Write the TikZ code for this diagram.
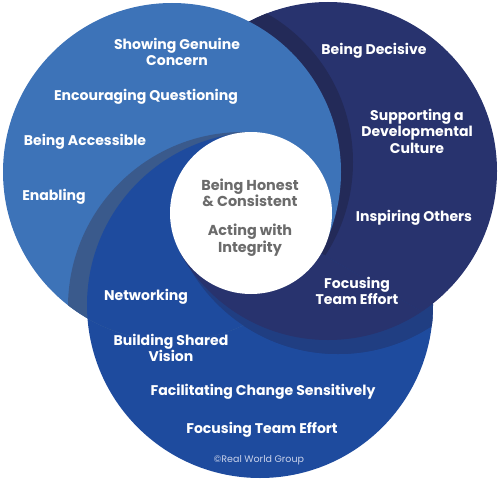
\documentclass[tikz,border=0pt]{standalone}
\usepackage{fontspec}
\newfontfamily\labelfont{Poppins}
\usetikzlibrary{calc}
\definecolor{lightring}{HTML}{3D73B8}
\definecolor{navyring}{HTML}{28336E}
\definecolor{blueRing}{HTML}{1E4B9E}
\definecolor{shadeAB}{HTML}{232A58}
\definecolor{shadeCA}{HTML}{3A5A8C}
\definecolor{shadeBC}{HTML}{203E82}
\definecolor{coregrey}{HTML}{6B6B6B}
\definecolor{copygrey}{HTML}{C9D2EA}
\tikzset{
    % 圆内白色标签
    ringlabel/.style={
        text=white,
        font=\labelfont\bfseries\fontsize{8}{9.4}\selectfont,
        align=center,
        inner sep=0pt
    },
    % 中心灰色标签
    corelabel/.style={
        text=coregrey,
        font=\labelfont\bfseries\fontsize{8.2}{9.4}\selectfont,
        align=center,
        inner sep=0pt
    }
}
\begin{document}
\begin{tikzpicture}[x=0.02cm,y=-0.02cm]
   \useasboundingbox (0,0) rectangle (500,483);
   \path
    (172,172) coordinate (ca)
    (328,171) coordinate (cb)
    (260,305) coordinate (cc)
    (251,213) coordinate (cw);
   \def\ra{169} \def\rb{169} \def\rc{173} \def\rw{81}

    % 底层：浅蓝 > 深蓝 > 中蓝
    \fill[blueRing] (cc) circle[radius=\rc];
    \begin{scope}
      \clip (cc) circle[radius=\rc];
      \fill[shadeBC] ($(cb)+(10,12)$) circle[radius=\rb+2];
    \end{scope}
    \fill[navyring] (cb) circle[radius=\rb];
    \begin{scope}
      \clip (cb) circle[radius=\rb];
      \fill[shadeAB] ($(ca)+(10,-10)$) circle[radius=\ra+2];
    \end{scope}
    \fill[lightring] (ca) circle[radius=\ra];

    % 中蓝压浅蓝（左侧与下方）
    \begin{scope}
      \clip (cw) -- ($(cw)+(30:400)$) -- ($(cw)+(90:400)$) -- ($(cw)+(150:400)$)
        -- ($(cw)+(210:400)$) -- ($(cw)+(270:400)$) -- cycle;
      \clip (ca) circle[radius=\ra];
      \fill[shadeCA] ($(cc)+(-17,2)$) circle[radius=\rc+2];
      \fill[blueRing] (cc) circle[radius=\rc];
    \end{scope}

    % 深蓝压中蓝（下方）
    \begin{scope}
      \clip (cw) -- ($(cw)+(30:400)$) -- ($(cw)+(90:400)$) -- ($(cw)+(150:400)$) -- cycle;
      \clip (cc) circle[radius=\rc];
      \fill[shadeBC] ($(cb)+(10,12)$) circle[radius=\rb+2];
      \fill[navyring] (cb) circle[radius=\rb];
    \end{scope}

    % 中心白圆
    \fill[white] (cw) circle[radius=\rw];

    % 标签
    \node[ringlabel] (concern) at (177,52) {Showing Genuine\\Concern};
    \node[ringlabel] (questioning) at (146,97) {Encouraging Questioning};
    \node[ringlabel] (accessible) at (85,142) {Being Accessible};
    \node[ringlabel] (enabling) at (54,197) {Enabling};
    \node[ringlabel] (decisive) at (374,51) {Being Decisive};
    \node[ringlabel] (culture) at (417,131) {Supporting a\\Developmental\\Culture};
    \node[ringlabel] (inspiring) at (414,218) {Inspiring Others};
    \node[ringlabel] (effortB) at (357,291) {Focusing\\Team Effort};
    \node[ringlabel] (networking) at (146,297) {Networking};
    \node[ringlabel] (vision) at (171,348) {Building Shared\\Vision};
    \node[ringlabel] (change) at (263,392) {Facilitating Change Sensitively};
    \node[ringlabel] (effortC) at (262,430) {Focusing Team Effort};
    \node[text=copygrey, font=\labelfont\fontsize{5.4}{6}\selectfont, inner sep=0pt] (copyright) at (259,460) {©Real World Group};
    \node[corelabel] (honest) at (250,193) {Being Honest\\\& Consistent};
    \node[corelabel] (integrity) at (250,240) {Acting with\\Integrity};

\end{tikzpicture}
\end{document}
